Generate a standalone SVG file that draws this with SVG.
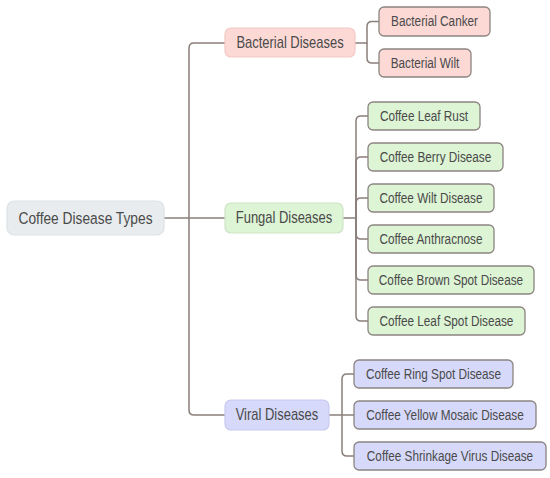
<svg xmlns="http://www.w3.org/2000/svg" width="550" height="478" viewBox="0 0 550 478">
<style>
text{font-family:"Liberation Sans",Arial,sans-serif;fill:#4a4a4a;text-anchor:middle;dominant-baseline:central;transform-box:fill-box;transform-origin:center}
.root rect{fill:#e8ecee;stroke:#dde2e5;stroke-width:1.2}
.root text{font-size:17px;transform:scaleX(0.81)}
.l1 text{font-size:16px;transform:scaleX(0.81)}
.l2 text{font-size:15px;transform:scaleX(0.785)}
.bac1 rect{fill:#fcd9d5;stroke:#f2c9c5;stroke-width:1.2}
.fun1 rect{fill:#ddf4d5;stroke:#cde5c5;stroke-width:1.2}
.vir1 rect{fill:#d6d9fa;stroke:#c7caee;stroke-width:1.2}
.bac2 rect{fill:#fcd9d5;stroke:#8c8481;stroke-width:1.3}
.fun2 rect{fill:#ddf4d5;stroke:#8c8481;stroke-width:1.3}
.vir2 rect{fill:#d6d9fa;stroke:#8c8481;stroke-width:1.3}
#connectors path{fill:none;stroke:#8a7f7b;stroke-width:1.5}
</style>
<g id="connectors">
<path d="M164,218 H225"/>
<path d="M189,218 V48 Q189,43 194,43 H225"/>
<path d="M189,218 V410 Q189,415 194,415 H225"/>
<path d="M355,43 H367 V26.5 Q367,21.5 372,21.5 H379"/>
<path d="M367,43 V58 Q367,63 372,63 H379"/>
<path d="M343,218 H356"/>
<path d="M356,218 V121 Q356,116 361,116 H368"/>
<path d="M356,218 V162 Q356,157 361,157 H368"/>
<path d="M356,218 V203 Q356,198 361,198 H368"/>
<path d="M356,218 V234 Q356,239 361,239 H368"/>
<path d="M356,218 V275 Q356,280 361,280 H368"/>
<path d="M356,218 V316 Q356,321 361,321 H368"/>
<path d="M329,415 H354"/>
<path d="M342,415 V379 Q342,374 347,374 H354"/>
<path d="M342,415 V451 Q342,456 347,456 H354"/>
</g>
<g id="root" class="root"><rect x="7" y="201" width="157" height="34" rx="7"/><text x="85.5" y="218">Coffee Disease Types</text></g>
<g id="bacterial" class="l1 bac1"><rect x="225" y="28" width="130" height="29" rx="6"/><text x="290" y="43">Bacterial Diseases</text></g>
<g id="fungal" class="l1 fun1"><rect x="225" y="203" width="118" height="30" rx="6"/><text x="284" y="218">Fungal Diseases</text></g>
<g id="viral" class="l1 vir1"><rect x="225" y="400" width="104" height="30" rx="6"/><text x="277" y="415">Viral Diseases</text></g>
<g id="canker" class="l2 bac2"><rect x="379" y="7" width="111" height="29" rx="5"/><text x="434.5" y="21.5">Bacterial Canker</text></g>
<g id="bwilt" class="l2 bac2"><rect x="379" y="49" width="92" height="28" rx="5"/><text x="425" y="63">Bacterial Wilt</text></g>
<g id="leafrust" class="l2 fun2"><rect x="368" y="102" width="112" height="28" rx="5"/><text x="424" y="116">Coffee Leaf Rust</text></g>
<g id="berry" class="l2 fun2"><rect x="368" y="143" width="135" height="28" rx="5"/><text x="435.5" y="157">Coffee Berry Disease</text></g>
<g id="cwilt" class="l2 fun2"><rect x="368" y="184" width="126" height="28" rx="5"/><text x="431" y="198">Coffee Wilt Disease</text></g>
<g id="anthracnose" class="l2 fun2"><rect x="368" y="225" width="126" height="28" rx="5"/><text x="431" y="239">Coffee Anthracnose</text></g>
<g id="brownspot" class="l2 fun2"><rect x="368" y="266" width="166" height="28" rx="5"/><text x="451" y="280">Coffee Brown Spot Disease</text></g>
<g id="leafspot" class="l2 fun2"><rect x="368" y="307" width="157" height="28" rx="5"/><text x="446.5" y="321">Coffee Leaf Spot Disease</text></g>
<g id="ringspot" class="l2 vir2"><rect x="354" y="360" width="159" height="28" rx="5"/><text x="433.5" y="374">Coffee Ring Spot Disease</text></g>
<g id="mosaic" class="l2 vir2"><rect x="354" y="401" width="182" height="28" rx="5"/><text x="445" y="415">Coffee Yellow Mosaic Disease</text></g>
<g id="shrinkage" class="l2 vir2"><rect x="354" y="442" width="192" height="28" rx="5"/><text x="450" y="456">Coffee Shrinkage Virus Disease</text></g>
</svg>
